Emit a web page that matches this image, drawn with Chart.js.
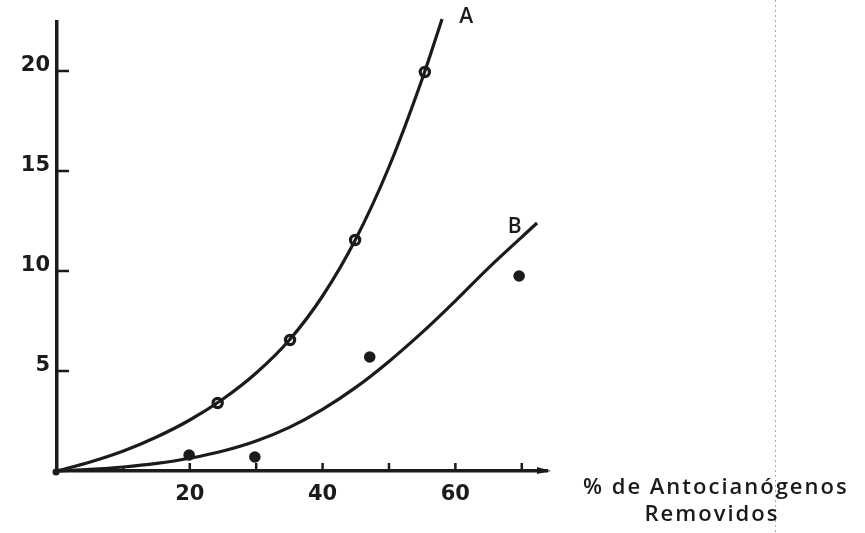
<!DOCTYPE html>
<html>
<head>
<meta charset="utf-8">
<script src="https://cdn.jsdelivr.net/npm/chart.js@4.4.1/dist/chart.umd.min.js"></script>
<style>
  html, body { margin: 0; padding: 0; background: #fff; }
  #chart { display: block; }
</style>
</head>
<body>
<canvas id="chart" width="865" height="533"></canvas>
<script>
// curve A (open circles)
const curveAx = [0, 5, 10, 15, 20, 25, 30, 35, 40, 45, 50, 55, 58];
const curveAy = [0, 0.45, 1.0, 1.7, 2.55, 3.6, 4.9, 6.55, 8.75, 11.6, 15.2, 19.6, 22.6];
const pointsAx = [24.2, 35.1, 44.9, 55.4];
const pointsAy = [3.4, 6.55, 11.55, 19.95];

// curve B (filled dots)
const curveBx = [0, 5, 10, 15, 20, 25, 30, 35, 40, 45, 50, 55, 60, 65, 72.3];
const curveBy = [0, 0.08, 0.2, 0.38, 0.64, 1.0, 1.5, 2.18, 3.08, 4.18, 5.48, 6.93, 8.51, 10.16, 12.4];
const pointsBx = [19.9, 29.8, 47.1, 69.6];
const pointsBy = [0.8, 0.7, 5.7, 9.75];

// axes
const xTicks = [10, 20, 30, 40, 50, 60, 70];
const xLabelValues = [20, 40, 60];
const xTickLabels = ['20', '40', '60'];
const yTicks = [5, 10, 15, 20];
const yTickLabels = ['5', '10', '15', '20'];
const xMax = 73.8;
const yMax = 22.45;

const ink = '#1b1b1b';
const tickFont = { family: 'DejaVu Sans', weight: 'bold', size: 21 };

function toXY(xs, ys) {
    return xs.map((x, i) => ({ x: x, y: ys[i] }));
}

// inside ticks, arrow head, curve letters, axis title, scan fold line
const extras = {
    id: 'extras',
    beforeDraw(chart) {
        const ctx = chart.ctx;
        ctx.save();
        ctx.fillStyle = '#fff';
        ctx.fillRect(0, 0, chart.width, chart.height);
        // faint fold line from the scan
        ctx.strokeStyle = '#a8a8a8';
        ctx.lineWidth = 1;
        ctx.setLineDash([2, 3]);
        ctx.beginPath();
        ctx.moveTo(775.5, 0);
        ctx.lineTo(775.5, chart.height);
        ctx.stroke();
        ctx.restore();
    },
    afterDraw(chart) {
        const ctx = chart.ctx;
        const xs = chart.scales.x;
        const ys = chart.scales.y;
        const x0 = xs.getPixelForValue(0);
        const y0 = ys.getPixelForValue(0);
        ctx.save();
        ctx.strokeStyle = ink;
        ctx.fillStyle = ink;
        ctx.lineWidth = 2.5;
        ctx.lineCap = 'butt';

        xTicks.forEach(v => {
            const px = xs.getPixelForValue(v);
            const len = v === 10 ? 4 : 8;
            ctx.beginPath();
            ctx.moveTo(px, y0);
            ctx.lineTo(px, y0 - len);
            ctx.stroke();
        });
        yTicks.forEach(v => {
            const py = ys.getPixelForValue(v);
            ctx.beginPath();
            ctx.moveTo(x0, py);
            ctx.lineTo(x0 + 12, py);
            ctx.stroke();
        });

        // arrow on x axis
        const xEnd = xs.getPixelForValue(xMax);
        ctx.beginPath();
        ctx.moveTo(xEnd + 4, y0);
        ctx.lineTo(xEnd - 10, y0 - 4);
        ctx.lineTo(xEnd - 10, y0 + 3);
        ctx.closePath();
        ctx.fill();

        // origin dot
        ctx.beginPath();
        ctx.arc(x0 - 1, y0 + 1, 3.5, 0, Math.PI * 2);
        ctx.fill();

        // curve letters
        ctx.font = '600 21px "Open Sans"';
        ctx.textAlign = 'left';
        ctx.textBaseline = 'alphabetic';
        ctx.fillText('A', xs.getPixelForValue(60.6), ys.getPixelForValue(22.4));
        ctx.fillText('B', xs.getPixelForValue(67.9), ys.getPixelForValue(11.9));

        // axis title
        ctx.font = '600 22px "Open Sans"';
        ctx.letterSpacing = '2px';
        ctx.textAlign = 'left';
        ctx.fillText('% de Antocianógenos', 583, 494);
        ctx.textAlign = 'center';
        ctx.fillText('Removidos', 712, 521);
        ctx.restore();
    }
};

new Chart(document.getElementById('chart'), {
    type: 'scatter',
    data: {
        datasets: [
            {
                label: 'A',
                data: toXY(curveAx, curveAy),
                showLine: true,
                cubicInterpolationMode: 'monotone',
                borderColor: ink,
                borderWidth: 3.2,
                pointRadius: 0,
                clip: false
            },
            {
                label: 'B',
                data: toXY(curveBx, curveBy),
                showLine: true,
                cubicInterpolationMode: 'monotone',
                borderColor: ink,
                borderWidth: 3.2,
                pointRadius: 0,
                clip: false
            },
            {
                label: 'A puntos',
                data: toXY(pointsAx, pointsAy),
                pointStyle: 'circle',
                pointRadius: 4.6,
                pointBorderWidth: 3.2,
                pointBackgroundColor: '#fff',
                pointBorderColor: ink
            },
            {
                label: 'B puntos',
                data: toXY(pointsBx, pointsBy),
                pointStyle: 'circle',
                pointRadius: 5.8,
                pointBorderWidth: 0,
                pointBackgroundColor: ink,
                pointBorderColor: ink
            }
        ]
    },
    options: {
        responsive: false,
        animation: false,
        devicePixelRatio: 1,
        layout: { padding: { left: 0, right: 318, top: 22, bottom: 0 } },
        plugins: {
            legend: { display: false },
            tooltip: { enabled: false }
        },
        scales: {
            x: {
                type: 'linear',
                min: 0,
                max: xMax,
                afterFit: s => { s.height = 62; },
                afterBuildTicks: s => {
                    s.ticks = xLabelValues.map(v => ({ value: v }));
                },
                ticks: {
                    color: ink,
                    font: tickFont,
                    padding: 11,
                    maxRotation: 0,
                    callback: (v, i) => xTickLabels[i]
                },
                grid: { display: false, drawTicks: false },
                border: { display: true, color: ink, width: 3.5 }
            },
            y: {
                type: 'linear',
                min: 0,
                max: yMax,
                afterFit: s => { s.width = 57; },
                afterBuildTicks: s => {
                    s.ticks = yTicks.map(v => ({ value: v }));
                },
                ticks: {
                    color: ink,
                    font: tickFont,
                    padding: 7,
                    labelOffset: -5,
                    callback: (v, i) => yTickLabels[i]
                },
                grid: { display: false, drawTicks: false },
                border: { display: true, color: ink, width: 3.5 }
            }
        }
    },
    plugins: [extras]
});
</script>
</body>
</html>
